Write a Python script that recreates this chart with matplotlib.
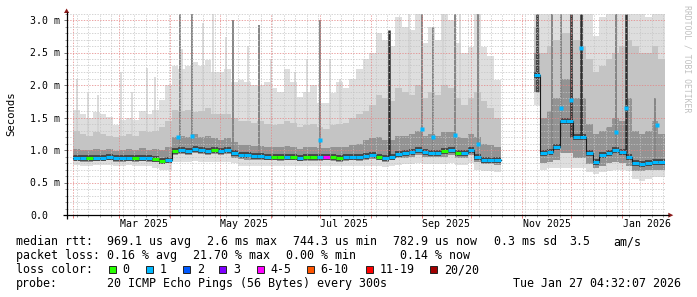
import numpy as np
import pandas as pd
import matplotlib
matplotlib.use("Agg")
import matplotlib.pyplot as plt
import matplotlib.dates as mdates
from matplotlib.ticker import MultipleLocator, NullFormatter
from matplotlib.patches import Rectangle, Polygon

plt.rcParams['font.family'] = ['DejaVu Sans Mono']

# 4-day bins: Feb 1 - Oct 18 2025, then gap, Nov 8 2025 - Jan 27 2026
days_a = pd.date_range("2025-02-01", periods=65, freq="4D")
days_b = pd.date_range("2025-11-08", periods=20, freq="4D")

# values in ms (median + smoke envelope levels)
median_a = [0.88, 0.87, 0.87, 0.88, 0.88, 0.89, 0.87, 0.87, 0.88, 0.87, 0.88, 0.87, 0.86, 0.83, 0.85,
            0.99, 1.00, 0.99, 1.02, 1.00, 0.99, 1.00, 0.99, 1.00,
            0.96, 0.93, 0.92, 0.91, 0.91, 0.90, 0.90, 0.89, 0.90, 0.90, 0.88, 0.89, 0.89, 0.89, 0.90,
            0.89, 0.88, 0.89, 0.90, 0.89, 0.91,
            0.92, 0.90, 0.88, 0.90, 0.94, 0.95, 0.97, 1.00, 0.97, 0.96, 0.96, 0.98, 1.00, 0.95, 0.95,
            1.00, 0.90, 0.85, 0.85, 0.84]
top_a = [1.62, 1.56, 1.49, 1.58, 1.56, 1.51, 1.38, 1.46, 1.49, 1.46, 1.60, 1.56, 1.62, 1.77, 2.00,
         2.30, 2.25, 2.30, 2.35, 2.30, 2.38, 2.20, 2.20, 2.25,
         2.05, 2.08, 2.05, 2.00, 2.00, 2.05, 1.95, 1.90, 2.25, 2.05, 1.82, 1.90, 2.00, 1.72, 1.72,
         1.87, 2.05, 1.95, 2.10, 2.25, 2.40,
         2.50, 2.80, 2.70, 2.60, 3.05, 2.90, 2.85, 3.10, 2.64, 2.90, 2.70, 3.10, 3.00, 2.64, 2.49,
         2.59, 3.10, 2.59, 2.44, 2.08]
mid_a = [1.30, 1.25, 1.22, 1.28, 1.25, 1.22, 1.20, 1.22, 1.25, 1.22, 1.30, 1.28, 1.30, 1.35, 1.45,
         1.62, 1.60, 1.62, 1.58, 1.60, 1.65, 1.55, 1.55, 1.55,
         1.50, 1.45, 1.45, 1.42, 1.45, 1.40, 1.38, 1.40, 1.45, 1.42, 1.35, 1.38, 1.40, 1.35, 1.32,
         1.38, 1.40, 1.42, 1.50, 1.55, 1.60,
         1.70, 1.85, 1.80, 1.75, 1.95, 1.90, 1.85, 2.00, 1.80, 1.90, 1.85, 2.00, 1.95, 1.80, 1.70,
         1.80, 1.90, 1.75, 1.65, 1.50]
dark_a = [1.02, 1.00, 1.00, 1.02, 1.00, 1.02, 0.98, 1.00, 1.02, 1.00, 1.03, 1.00, 1.02, 1.00, 1.05,
          1.20, 1.22, 1.20, 1.25, 1.20, 1.22, 1.18, 1.15, 1.18,
          1.12, 1.08, 1.07, 1.06, 1.06, 1.05, 1.05, 1.04, 1.06, 1.05, 1.02, 1.04, 1.04, 1.03, 1.03,
          1.04, 1.04, 1.05, 1.08, 1.10, 1.15,
          1.18, 1.20, 1.15, 1.15, 1.22, 1.22, 1.25, 1.30, 1.22, 1.25, 1.22, 1.28, 1.28, 1.20, 1.18,
          1.25, 1.20, 1.10, 1.08, 1.05]
low2_a = [0.83, 0.82, 0.82, 0.83, 0.83, 0.84, 0.82, 0.82, 0.83, 0.82, 0.83, 0.82, 0.81, 0.78, 0.80,
          0.93, 0.94, 0.93, 0.95, 0.94, 0.93, 0.94, 0.93, 0.94,
          0.88, 0.86, 0.85, 0.85, 0.85, 0.84, 0.84, 0.83, 0.84, 0.84, 0.83, 0.83, 0.83, 0.83, 0.84,
          0.83, 0.82, 0.83, 0.84, 0.83, 0.85,
          0.86, 0.84, 0.82, 0.84, 0.87, 0.88, 0.90, 0.92, 0.90, 0.89, 0.89, 0.90, 0.92, 0.88, 0.88,
          0.92, 0.82, 0.78, 0.78, 0.77]
low_a = [0.77, 0.76, 0.76, 0.77, 0.77, 0.77, 0.76, 0.76, 0.77, 0.76, 0.76, 0.75, 0.72, 0.69, 0.70,
         0.82, 0.82, 0.82, 0.83, 0.82, 0.82, 0.82, 0.81, 0.82,
         0.80, 0.76, 0.76, 0.75, 0.75, 0.75, 0.76, 0.75, 0.75, 0.76, 0.75, 0.75, 0.76, 0.75, 0.75,
         0.76, 0.75, 0.75, 0.76, 0.75, 0.76,
         0.76, 0.75, 0.74, 0.75, 0.77, 0.78, 0.79, 0.80, 0.78, 0.78, 0.78, 0.78, 0.80, 0.77, 0.77,
         0.80, 0.70, 0.67, 0.67, 0.66]
loss_a = [1, 1, 0, 1, 1, 1, 1, 1, 1, 0, 1, 1, 0, 0, 1,
          0, 1, 1, 1, 1, 1, 0, 1, 1,
          1, 1, 1, 1, 1, 1, 0, 0, 1, 0, 1, 0, 0, 1, 4, 0, 0, 1, 1, 1, 1,
          1, 0, 1, 1, 1, 1, 1, 1, 1, 1, 1, 0, 1, 0, 1, 1, 1, 1, 1, 1]

median_b = [2.15, 0.95, 0.97, 1.05, 1.45, 1.45, 1.20, 1.20, 0.95, 0.82,
            0.92, 0.96, 1.00, 0.97, 0.90, 0.80, 0.79, 0.80, 0.82, 0.82]
top_b = [3.10, 3.10, 3.10, 3.10, 3.10, 3.10, 3.10, 3.10, 3.10, 2.75,
         3.05, 3.10, 3.10, 3.10, 3.10, 3.10, 3.10, 3.05, 3.10, 3.10]
mid_b = [2.90, 2.50, 2.60, 2.70, 2.80, 2.80, 2.70, 2.60, 2.40, 2.20,
         2.30, 2.40, 2.50, 2.60, 2.70, 2.60, 2.50, 2.50, 2.60, 2.40]
dark_b = [2.50, 1.50, 1.60, 1.80, 2.10, 2.10, 1.80, 1.80, 1.40, 1.25,
          1.30, 1.35, 1.50, 1.45, 1.80, 1.30, 1.25, 1.30, 1.45, 1.25]
low2_b = [1.90, 0.80, 0.82, 0.84, 0.95, 0.95, 0.88, 0.88, 0.78, 0.72,
          0.76, 0.80, 0.82, 0.80, 0.76, 0.68, 0.68, 0.70, 0.70, 0.70]
low_b = [1.70, 0.70, 0.72, 0.72, 0.72, 0.72, 0.72, 0.72, 0.66, 0.63,
         0.66, 0.68, 0.70, 0.70, 0.68, 0.56, 0.52, 0.55, 0.58, 0.58]
loss_b = [1, 1, 1, 1, 1, 1, 1, 1, 1, 1, 1, 1, 1, 1, 1, 1, 1, 1, 1, 1]

# narrow columns (single days with outliers)
light_spike_dates = ["2025-02-03", "2025-02-10", "2025-02-16", "2025-03-02", "2025-03-09",
                     "2025-03-18", "2025-03-23", "2025-04-08", "2025-04-21", "2025-04-27",
                     "2025-05-05", "2025-05-18", "2025-06-01", "2025-06-16", "2025-06-23",
                     "2025-07-07", "2025-07-13", "2025-08-24", "2025-09-14", "2025-09-24"]
light_spike_lows = [0.90, 0.90, 0.90, 0.90, 0.90, 0.90, 0.90, 1.00, 1.00, 1.00,
                    1.00, 0.95, 0.90, 0.90, 0.90, 0.90, 0.90, 0.95, 1.00, 1.00]
light_spike_tops = [2.09, 1.87, 1.85, 2.20, 1.90, 2.26, 2.13, 2.56, 2.95, 3.10,
                    2.74, 2.60, 2.40, 2.20, 2.40, 2.40, 2.10, 3.10, 3.10, 3.10]
dark_spike_dates = ["2025-04-07", "2025-04-14", "2025-05-09", "2025-05-25", "2025-07-01",
                    "2025-09-01", "2025-09-08", "2025-09-21", "2025-10-05", "2025-11-19",
                    "2025-11-25", "2025-12-28", "2026-01-21"]
dark_spike_lows = [1.00, 1.00, 1.00, 0.92, 0.90, 1.00, 0.97, 1.00, 0.90, 1.00, 1.20, 1.00, 0.85]
dark_spike_tops = [3.10, 3.10, 3.00, 2.92, 3.00, 3.10, 2.90, 3.10, 3.10, 3.10, 3.10, 3.10, 1.80]
black_spike_dates = ["2025-08-12", "2025-11-10", "2025-12-01", "2025-12-07", "2026-01-03"]
black_spike_lows = [0.88, 1.90, 1.20, 1.20, 0.95]
black_spike_tops = [2.84, 3.10, 3.10, 3.10, 3.10]

peak_dates = ["2025-04-06", "2025-04-14", "2025-07-01", "2025-09-01", "2025-09-08",
              "2025-09-21", "2025-10-05", "2025-11-25", "2025-12-01", "2025-12-07",
              "2025-12-28", "2026-01-03", "2026-01-22"]
peak_values = [1.20, 1.21, 1.15, 1.33, 1.20, 1.23, 1.10, 1.64, 1.77, 2.57, 1.28, 1.64, 1.38]

loss_colors = {0: '#26ff00', 1: '#00b8ff', 2: '#0059ff', 3: '#7e00ff',
               4: '#ff00ff', 6: '#ff5500', 11: '#ff0000', 20: '#a10000'}
loss_labels = ["0", "1", "2", "3", "4-5", "6-10", "11-19", "20/20"]

month_labels = ["Mar 2025", "May 2025", "Jul 2025", "Sep 2025", "Nov 2025", "Jan 2026"]
month_label_dates = ["2025-03-16", "2025-05-16", "2025-07-16", "2025-09-16", "2025-11-16", "2026-01-16"]
ytick_vals = [0.0, 0.5, 1.0, 1.5, 2.0, 2.5, 3.0]
ytick_labels = ["0.0", "0.5 m", "1.0 m", "1.5 m", "2.0 m", "2.5 m", "3.0 m"]


def smoke(ax, days, top, mid, dark, med, low2, low, loss):
    edges = list(days) + [days[-1] + pd.Timedelta(days=4)]
    def st(v):
        return np.append(v, v[-1])
    ax.fill_between(edges, st(low), st(top), step='post', color='#dedede', lw=0, zorder=1)
    ax.fill_between(edges, st(low2), st(mid), step='post', color='#c4c4c4', lw=0, zorder=1.2)
    ax.fill_between(edges, st(low2), st(dark), step='post', color='#939393', lw=0, zorder=1.4)
    ax.hlines(med, edges[:-1], edges[1:], colors='#454545', lw=4.2, zorder=1.6)
    ax.step(edges, st(med), where='post', color='#1a1a1a', lw=0.8, zorder=3.5)
    ax.hlines(med, edges[:-1], edges[1:], colors=[loss_colors[c] for c in loss],
              lw=2.2, zorder=4)


fig = plt.figure(figsize=(6.97, 2.97), dpi=100)
ax = fig.add_axes([66.7 / 697, 82 / 297, 598.3 / 697, 201.5 / 297])

smoke(ax, days_a, top_a, mid_a, dark_a, median_a, low2_a, low_a, loss_a)
smoke(ax, days_b, top_b, mid_b, dark_b, median_b, low2_b, low_b, loss_b)

ax.vlines(pd.to_datetime(light_spike_dates), light_spike_lows, light_spike_tops,
          color='#d2d2d2', lw=1.1, zorder=1.1)
ax.vlines(pd.to_datetime(dark_spike_dates), dark_spike_lows, dark_spike_tops,
          color='#858585', lw=1.4, zorder=1.5)
ax.vlines(pd.to_datetime(black_spike_dates), black_spike_lows, black_spike_tops,
          color='#2e2e2e', lw=1.8, zorder=1.7)
ax.plot(pd.to_datetime(peak_dates), peak_values, ls='none', marker='s', ms=2.6,
        mfc='#00b8ff', mec='none', zorder=4.5)

ax.set_xlim(pd.Timestamp("2025-01-28"), pd.Timestamp("2026-01-27"))
ax.set_ylim(0, 3.1)
for s in ax.spines.values():
    s.set_visible(False)
ax.patch.set_alpha(0)

ax.xaxis.set_major_locator(mdates.MonthLocator())
ax.xaxis.set_minor_locator(mdates.WeekdayLocator(byweekday=mdates.MO))
ax.xaxis.set_major_formatter(NullFormatter())
ax.yaxis.set_major_locator(MultipleLocator(0.5))
ax.yaxis.set_minor_locator(MultipleLocator(0.1))
ax.set_yticks(ytick_vals, ytick_labels)
for t in ax.get_yticklabels():
    t.set_horizontalalignment('left')

ax.tick_params(axis='y', which='major', length=2.2, width=0.7, color='#777777',
               pad=24.1, labelsize=7.1)
ax.tick_params(axis='y', which='minor', length=1.6, width=0.7, color='#999999')
ax.tick_params(axis='x', which='major', length=2.2, width=0.7, color='#e07070')
ax.tick_params(axis='x', which='minor', length=1.6, width=0.7, color='#999999')

ax.set_axisbelow(False)
ax.grid(True, which='minor', color='#c4c4c4', lw=0.7, ls=(0, (1.4, 1.4)), alpha=0.75)
ax.grid(True, which='major', color='#e48484', lw=0.7, ls=(0, (1.4, 1.4)), alpha=0.75)

xt = ax.get_xaxis_transform()
for d, lab in zip(month_label_dates, month_labels):
    ax.text(pd.Timestamp(d), -9.3 / 201.5, lab, transform=xt, ha='center', va='center',
            fontsize=7.1)

# overlay in pixel coordinates for axes arrows, legend and captions
ov = fig.add_axes([0, 0, 1, 1], zorder=5)
ov.set_xlim(0, 697)
ov.set_ylim(297, 0)
ov.axis('off')

ov.plot([66.5, 66.5], [218.5, 12], color='black', lw=0.9, solid_capstyle='butt')
ov.plot([63, 669], [215.2, 215.2], color='black', lw=0.9, solid_capstyle='butt')
ov.add_patch(Polygon([(64, 13), (69.2, 13), (66.6, 8.5)], closed=True, color='#8b1a1a', lw=0))
ov.add_patch(Polygon([(668.3, 212.7), (668.3, 217.7), (673.3, 215.2)], closed=True,
                     color='#8b1a1a', lw=0))

ov.text(11, 114, "Seconds", rotation=90, ha='center', va='center', fontsize=7.7)
ov.text(686.7, 5, "RRDTOOL / TOBI OETIKER", rotation=270, ha='center', va='top',
        fontsize=5.9, color='#c0c0c0')

fs = 8.4
rows = [245.3, 259.2, 273.3, 287.3]
ov.text(16, rows[0], "median rtt:", fontsize=fs, va='baseline')
for x, s in [(107.3, "969.1 us avg"), (207.3, "2.6 ms max"), (293.3, "744.3 us min"),
             (393, "782.9 us now"), (493.7, "0.3 ms sd"), (569.7, "3.5"), (613.7, "am/s")]:
    ov.text(x, rows[0], s, fontsize=fs, va='baseline')
ov.text(16, rows[1], "packet loss:", fontsize=fs, va='baseline')
for x, s in [(107.3, "0.16 % avg"), (193.3, "21.70 % max"), (286, "0.00 % min"),
             (400.3, "0.14 % now")]:
    ov.text(x, rows[1], s, fontsize=fs, va='baseline')
ov.text(16, rows[2], "loss color:", fontsize=fs, va='baseline')
box_x = [108.7, 145.7, 182.7, 219.3, 256.7, 306.7, 366, 429.7]
for bx, key, lab in zip(box_x, loss_colors, loss_labels):
    ov.add_patch(Rectangle((bx, 265.5), 7, 7.6, facecolor=loss_colors[key],
                           edgecolor='#222222', lw=0.7))
    ov.text(bx + 14, rows[2], lab, fontsize=fs, va='baseline')
ov.text(16, rows[3], "probe:", fontsize=fs, va='baseline')
ov.text(107.3, rows[3], "20 ICMP Echo Pings (56 Bytes) every 300s", fontsize=fs, va='baseline')
ov.text(681, rows[3], "Tue Jan 27 04:32:07 2026", fontsize=fs, va='baseline', ha='right')

fig.savefig("out.png", dpi=100)
